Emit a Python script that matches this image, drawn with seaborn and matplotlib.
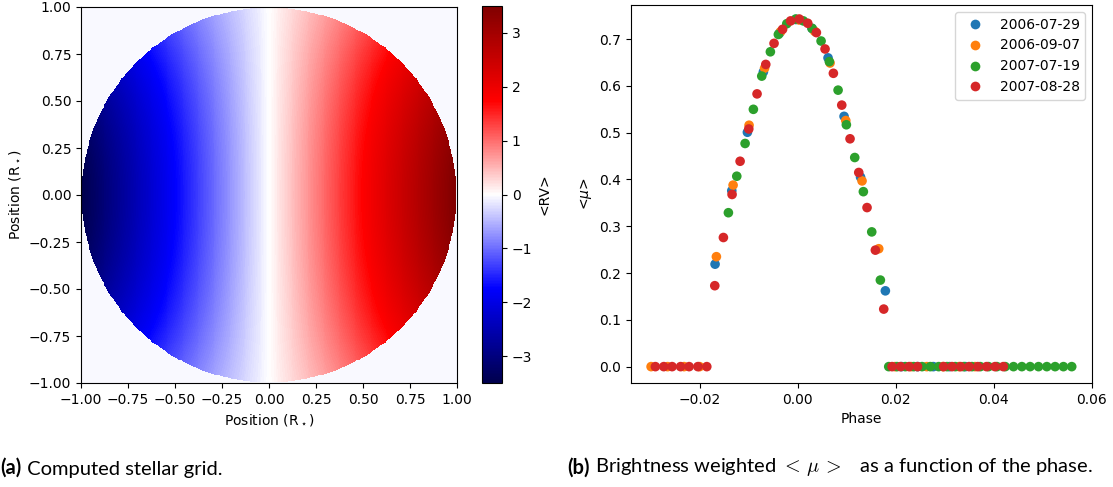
import numpy as np
import pandas as pd
import matplotlib
matplotlib.use("Agg")
import matplotlib.pyplot as plt
from matplotlib.lines import Line2D
import seaborn as sns

# ---------------- data ----------------
# stellar grid model parameters (read from the colour bar / band curvature)
V_EQ = 3.5          # equatorial <RV>
ALPHA = 0.4         # differential-rotation shear
BACKGROUND = -0.05  # value outside the stellar disc
GRID_N = 400
RV_LIMITS = [-3.5, 3.5]
CBAR_TICKS = [-3, -2, -1, 0, 1, 2, 3]
POS_TICKS = [-1.0, -0.75, -0.5, -0.25, 0.0, 0.25, 0.5, 0.75, 1.0]
PHASE_TICKS = [-0.02, 0.0, 0.02, 0.04, 0.06]
MU_TICKS = [0.0, 0.1, 0.2, 0.3, 0.4, 0.5, 0.6, 0.7]

dates = ["2006-07-29", "2006-09-07", "2007-07-19", "2007-08-28"]
colors = ["#1f77b4", "#ff7f0e", "#2ca02c", "#d62728"]

phase_2006_07_29 = [-0.01684, -0.01343, -0.01024, -0.00698, -0.00367, -0.00037, 0.00296,
                    0.00622, 0.00949, 0.01286, 0.01792, 0.02122, 0.02449, 0.02771,
                    0.03102, 0.03424]
mu_2006_07_29 = [0.219, 0.376, 0.501, 0.630, 0.713, 0.742, 0.723, 0.660, 0.535, 0.405,
                 0.162, 0.0, 0.0, 0.0, 0.0, 0.0]

phase_2006_09_07 = [-0.02990, -0.02653, -0.02316, -0.02000, -0.01657, -0.01316, -0.00990,
                    -0.00673, -0.00347, 0.00031, 0.00347, 0.00663, 0.00984, 0.01316,
                    0.01657, 0.01990, 0.02316, 0.02637, 0.02969, 0.03296, 0.03622]
mu_2006_09_07 = [0.0, 0.0, 0.0, 0.0, 0.235, 0.388, 0.516, 0.638, 0.716, 0.741, 0.717,
                 0.649, 0.526, 0.397, 0.252, 0.0, 0.0, 0.0, 0.0, 0.0, 0.0]

phase_2007_07_19 = [-0.01412, -0.01241, -0.01071, -0.00902, -0.00731, -0.00555, -0.00392,
                    -0.00220, -0.00037, 0.00118, 0.00296, 0.00480, 0.00649, 0.00827,
                    0.00996, 0.01167, 0.01343, 0.01514, 0.01690,
                    0.01861, 0.02031, 0.02200, 0.02371, 0.02541, 0.02710, 0.02880,
                    0.03049, 0.03220, 0.03390, 0.03559, 0.03729, 0.03898, 0.04069,
                    0.04239, 0.04408, 0.04578, 0.04747, 0.04918, 0.05088, 0.05257,
                    0.05427, 0.05596]
mu_2007_07_19 = [0.329, 0.407, 0.477, 0.550, 0.621, 0.673, 0.710, 0.733, 0.743, 0.739,
                 0.723, 0.696, 0.652, 0.591, 0.517, 0.447, 0.374, 0.288, 0.185,
                 0.0, 0.0, 0.0, 0.0, 0.0, 0.0, 0.0, 0.0, 0.0, 0.0, 0.0, 0.0, 0.0,
                 0.0, 0.0, 0.0, 0.0, 0.0, 0.0, 0.0, 0.0, 0.0, 0.0]

phase_2007_08_28 = [-0.02902, -0.02731, -0.02561, -0.02388, -0.02214, -0.02035, -0.01853,
                    -0.01690, -0.01514, -0.01337, -0.01173, -0.00996, -0.00827, -0.00649,
                    -0.00480, -0.00306, -0.00143, 0.00035, 0.00208, 0.00384, 0.00561,
                    0.00731, 0.00902, 0.01071, 0.01249, 0.01418, 0.01588, 0.01759,
                    0.01929, 0.02102, 0.02276, 0.02449, 0.02980, 0.03153, 0.03327,
                    0.03500, 0.03678, 0.03857, 0.04031, 0.04200]
mu_2007_08_28 = [0.0, 0.0, 0.0, 0.0, 0.0, 0.0, 0.0,
                 0.173, 0.276, 0.368, 0.439, 0.508, 0.583, 0.646, 0.691, 0.721, 0.739,
                 0.743, 0.734, 0.714, 0.679, 0.627, 0.559, 0.487, 0.415, 0.340, 0.249,
                 0.123,
                 0.0, 0.0, 0.0, 0.0, 0.0, 0.0, 0.0, 0.0, 0.0, 0.0, 0.0, 0.0]

phases = [phase_2006_07_29, phase_2006_09_07, phase_2007_07_19, phase_2007_08_28]
mus = [mu_2006_07_29, mu_2006_09_07, mu_2007_07_19, mu_2007_08_28]

# ---------------- figure ----------------
W, H = 1113, 487
fig = plt.figure(figsize=(W / 100, H / 100), dpi=100)
plt.rcParams["font.size"] = 10
plt.rcParams["axes.unicode_minus"] = True


def box(x0, y0, x1, y1):
    return [x0 / W, 1 - y1 / H, (x1 - x0) / W, (y1 - y0) / H]


# ---- left: stellar grid ----
ax1 = fig.add_axes(box(81, 7, 457, 383))
cax = fig.add_axes(box(482, 6, 502, 383))

g = np.linspace(-1, 1, GRID_N)
X, Y = np.meshgrid(g, g)
rv = V_EQ * X * (1 - ALPHA * Y ** 2)
rv[X ** 2 + Y ** 2 > 1] = BACKGROUND
im = ax1.imshow(rv, origin="lower", extent=[-1, 1, -1, 1], cmap="seismic",
                vmin=RV_LIMITS[0], vmax=RV_LIMITS[1], interpolation="nearest",
                aspect="auto")
ax1.set_xticks(POS_TICKS)
ax1.set_yticks(POS_TICKS)
ax1.set_xlabel(r"Position (R$_\star$)")
ax1.set_ylabel(r"Position (R$_\star$)")
cb = fig.colorbar(im, cax=cax, ticks=CBAR_TICKS)
cb.set_label("<RV>")

# ---- right: brightness-weighted mu ----
ax2 = fig.add_axes(box(631, 5, 1092, 383))
for d, c, p, m in zip(dates, colors, phases, mus):
    sns.scatterplot(x=p, y=m, ax=ax2, color=c, s=48, linewidth=0,
                    edgecolor="none", label=d, legend=False)
ax2.set_xlim(-0.0340, 0.0601)
ax2.set_ylim(-0.035, 0.773)
ax2.set_xticks(PHASE_TICKS)
ax2.set_yticks(MU_TICKS)
ax2.set_xlabel("Phase")
ax2.set_ylabel(r"<$\mu$>")
handles = [Line2D([], [], marker="o", linestyle="", color=c, markersize=7,
                  markeredgewidth=0) for c in colors]
ax2.legend(handles, dates, loc="upper right", numpoints=1)

# ---- captions ----
cap_font = ["Lato", "DejaVu Sans"]
FS = 14.5
cy = 1 - 474 / H
ta = fig.text(0.5 / W, cy, "(a)", family=cap_font, weight="bold", fontsize=FS)
ax1.annotate(" Computed stellar grid.", xy=(1, 0), xycoords=ta, va="bottom",
             ha="left", family=cap_font, fontsize=FS, annotation_clip=False)
tb = fig.text(567 / W, cy, "(b)", family=cap_font, weight="bold", fontsize=FS)
t2 = ax2.annotate(r" Brightness weighted $<\,\mu\,>$" + "\u2002 as a function of the phase.",
                  xy=(1, 0), xycoords=tb, va="bottom", ha="left",
                  family=cap_font, fontsize=FS, annotation_clip=False)
t2.set_math_fontfamily("cm")

fig.savefig("out.png", dpi=100)
